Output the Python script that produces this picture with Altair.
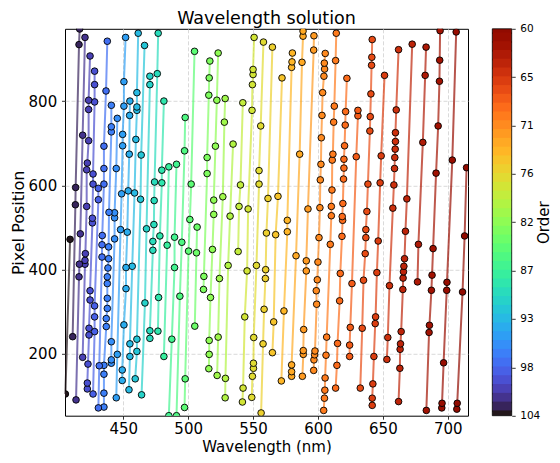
import altair as alt
import pandas as pd

# ---- data: wavelength (nm) and pixel position per echelle order ----
wl_60 = [707.0, 707.3, 711.4, 713.0, 714.5]
px_60 = [69, 83, 347, 480, 642]
wl_61 = [695.4, 695.6, 696.8, 699.2, 699.4, 703.5, 706.5]
px_61 = [72, 83, 179, 351, 370, 660, 964]
wl_62 = [683.5, 685.6, 685.9, 687.4, 687.9, 688.7, 691.0, 692.6, 693.6, 693.8, 694.1]
px_62 = [66, 251, 268, 351, 387, 450, 629, 741, 847, 897, 967]
wl_63 = [676.7, 677.4, 680.8, 682.6, 683.3]
px_63 = [371, 460, 702, 861, 928]
wl_64 = [662.1, 663.1, 663.3, 663.6, 664.1, 665.4, 665.6, 665.9, 666.2, 666.7, 667.4, 668.5, 672.6]
px_64 = [87, 166, 211, 224, 253, 353, 380, 395, 408, 426, 491, 568, 935]
wl_65 = [653.1, 653.8, 655.1, 657.7, 658.5, 659.0, 659.2, 659.5, 659.7, 659.7, 660.3, 662.1]
px_65 = [187, 239, 362, 546, 601, 640, 666, 686, 704, 725, 779, 922]
wl_66 = [641.8, 641.8, 642.3, 643.1, 644.1, 644.4, 645.4, 646.4, 647.9, 648.7, 651.3]
px_66 = [78, 95, 129, 194, 272, 288, 393, 468, 606, 670, 861]
wl_67 = [632.6, 634.1, 635.1, 636.4, 636.9, 636.9, 637.7, 638.5, 640.0, 640.3, 640.8, 641.3, 641.5, 641.8]
px_67 = [119, 261, 375, 438, 476, 495, 538, 603, 729, 763, 817, 885, 904, 946]
wl_68 = [624.4, 624.4, 624.9, 626.2, 629.5, 630.8, 630.8]
px_68 = [194, 221, 263, 367, 668, 765, 778]
wl_69 = [613.6, 614.6, 615.1, 616.7, 617.2, 618.5, 619.0, 618.7, 619.2, 619.7, 620.0, 620.0, 620.5, 621.0, 621.3, 622.3]
px_69 = [119, 173, 225, 326, 391, 479, 517, 526, 557, 615, 641, 662, 694, 743, 775, 854]
wl_70 = [604.4, 605.0, 605.3, 605.5, 606.2, 606.7, 609.5, 610.3, 610.3, 610.8, 611.0, 611.5, 612.1, 612.6, 613.6, 614.1]
px_70 = [66, 95, 114, 143, 197, 240, 460, 528, 550, 589, 660, 674, 750, 788, 896, 961]
wl_71 = [596.7, 596.9, 597.4, 597.7, 599.0, 598.7, 599.5, 600.0, 600.8, 601.5, 601.8, 602.3, 602.6, 603.1, 603.6, 604.6, 605.1, 604.9, 605.6]
px_71 = [161, 186, 198, 207, 318, 350, 376, 418, 476, 547, 613, 650, 713, 766, 820, 859, 876, 890, 913]
wl_72 = [588.0, 588.7, 588.7, 589.0, 591.0, 591.0, 592.3, 596.7, 596.9]
px_72 = [147, 199, 208, 258, 397, 421, 544, 921, 955]
wl_73 = [579.7, 579.7, 579.7, 583.1, 585.9, 587.7, 588.5, 588.5]
px_73 = [147, 158, 174, 433, 674, 892, 954, 966]
wl_74 = [571.8, 573.8, 576.4, 576.4, 579.7, 580.0, 580.3]
px_74 = [136, 302, 490, 517, 880, 893, 914]
wl_75 = [564.9, 565.9, 567.4, 569.2, 572.3]
px_75 = [203, 276, 483, 574, 855]
wl_76 = [556.2, 557.7, 558.5, 559.5, 559.7, 560.3, 561.5, 564.9]
px_76 = [60, 224, 306, 379, 400, 487, 569, 928]
wl_77 = [549.0, 549.5, 550.3, 550.3, 550.5, 552.6, 554.6, 554.6, 555.9, 558.0]
px_77 = [97, 147, 166, 178, 239, 410, 603, 635, 741, 940]
wl_78 = [541.8, 542.3, 543.6, 545.4, 546.2, 549.2, 549.5, 550.0, 550.0, 550.8]
px_78 = [86, 119, 288, 397, 544, 778, 839, 863, 875, 951]
wl_79 = [538.5, 539.2, 540.3, 542.1]
px_79 = [443, 550, 601, 796]
wl_80 = [528.5, 528.7, 530.8, 532.3, 534.6]
px_80 = [96, 142, 410, 527, 698]
wl_81 = [522.3, 523.1, 524.1, 526.7, 527.9, 528.5]
px_81 = [149, 240, 379, 573, 750, 806]
wl_82 = [515.9, 516.2, 516.2, 517.2, 518.7, 519.7, 519.7, 521.0, 522.1, 523.1]
px_82 = [165, 199, 232, 334, 448, 531, 565, 693, 802, 914]
wl_83 = [511.8, 512.1, 514.6, 514.6, 515.9, 516.2, 516.7]
px_83 = [353, 384, 628, 666, 814, 855, 895]
wl_84 = [505.1, 506.4, 506.9]
px_84 = [266, 440, 501]
wl_85 = [497.2, 497.7, 500.3, 501.3, 502.3, 504.9]
px_85 = [73, 141, 444, 519, 603, 918]
wl_86 = [491.0, 493.6, 495.1, 497.2, 497.7]
px_86 = [53.5, 337, 465, 682, 761]
wl_87 = [485.1, 487.4, 489.5, 489.5, 491.0]
px_87 = [53.5, 235, 405, 477, 650]
wl_88 = [481.3, 483.8, 485.1]
px_88 = [194, 458, 644]
wl_89 = [476.7, 477.2, 478.2, 479.7, 479.7, 481.3]
px_89 = [254, 334, 480, 606, 636, 800]
wl_90 = [470.5, 470.5, 472.8, 472.8, 473.6, 473.8, 474.1, 476.2, 476.9]
px_90 = [237, 255, 446, 467, 507, 564, 608, 865, 961]
wl_91 = [464.1, 466.7, 467.9, 470.5, 470.5]
px_91 = [103, 321, 497, 839, 859]
wl_92 = [459.2, 460.5, 460.5, 463.3, 463.8, 466.4]
px_92 = [141, 206, 235, 567, 672, 932]
wl_93 = [454.4, 455.1, 455.1, 456.9, 458.7, 459.7, 460.5, 460.5, 460.5, 461.5]
px_93 = [115, 194, 224, 408, 582, 709, 778, 786, 820, 961]
wl_94 = [449.2, 449.2, 450.5, 452.1, 452.1, 453.1, 453.8, 454.6, 454.9, 455.1]
px_94 = [137, 162, 269, 355, 405, 489, 587, 674, 766, 800]
wl_95 = [444.6, 445.4, 447.9, 448.7, 449.5, 449.5, 450.5, 450.5, 451.8]
px_95 = [96, 199, 495, 580, 694, 721, 788, 846, 951]
wl_96 = [440.8, 440.8, 440.8, 443.3, 443.3, 443.3, 444.6, 445.4]
px_96 = [178, 186, 229, 473, 523, 535, 640, 759]
wl_97 = [435.1, 435.1, 435.1, 435.1, 436.9, 436.9, 437.7, 437.7, 437.7, 437.7, 438.2, 438.7, 438.7, 439.0, 440.8, 440.8, 440.8]
px_97 = [74, 107, 152, 173, 265, 284, 308, 332, 367, 383, 404, 426, 454, 536, 727, 739, 790]
wl_98 = [430.8, 431.5, 433.6, 433.6, 433.8, 435.1, 435.1, 435.1, 436.7, 437.7]
px_98 = [72, 172, 430, 459, 481, 603, 640, 693, 824, 942]
wl_99 = [426.7, 427.9, 427.9, 427.9, 430.8, 430.8]
px_99 = [105, 253, 288, 314, 566, 593]
wl_100 = [422.3, 422.3, 422.8, 423.6, 423.6, 424.4, 424.4, 426.2, 426.2, 426.7, 426.7, 427.9, 427.9, 427.9]
px_100 = [117, 131, 176, 245, 261, 328, 350, 511, 522, 603, 627, 798, 839, 871]
wl_101 = [418.7, 420.5, 420.5, 420.8, 421.8, 421.8, 422.3, 423.3, 423.3, 423.3, 424.4]
px_101 = [192, 413, 422, 438, 550, 637, 653, 706, 780, 802, 907]
wl_102 = [413.6, 415.9, 416.2, 416.9, 418.7, 420.5]
px_102 = [91, 383, 413, 485, 719, 951]
wl_103 = [411.0, 413.1, 413.3, 415.9, 416.4]
px_103 = [241, 554, 595, 934, 971]
wl_104 = [405.4, 409.0]
px_104 = [105, 472]

ORDERS = list(range(60, 105))
X_TICKS = [450, 500, 550, 600, 650, 700]
Y_TICKS = [200, 400, 600, 800]
CB_TICKS = [60, 65.5, 71, 76.5, 82, 87.5, 93, 98.5, 104]

SERIES = {m: (globals()[f"wl_{m}"], globals()[f"px_{m}"]) for m in ORDERS}

rows = []
for m in ORDERS:
    wls, pxs = SERIES[m]
    for w, p in zip(wls, pxs):
        rows.append({"order": m, "wavelength": w, "pixel": p})
df = pd.DataFrame(rows)
cb_df = pd.DataFrame({"order": ORDERS})

FONT = "DejaVu Sans"
PLOT_H = 386.9
color_scale = alt.Scale(domain=[60, 104], scheme="turbo", reverse=True)
c_enc = alt.Color("order:Q", scale=color_scale, legend=None)

x_enc = alt.X(
    "wavelength:Q",
    scale=alt.Scale(domain=[405.1, 715.6], nice=False, zero=False),
    axis=alt.Axis(title="Wavelength (nm)", values=X_TICKS, format="d", labelFlush=False,
                  orient="bottom", labelPadding=2.5, titleFontSize=15,
                  titleBaseline="alphabetic", titleY=35.8),
)
y_enc = alt.Y(
    "pixel:Q",
    scale=alt.Scale(domain=[53.5, 971.5], nice=False, zero=False),
    axis=alt.Axis(title="Pixel Position", values=Y_TICKS, format="d", orient="left",
                  labelPadding=4.8, titlePadding=2.0, titleFontSize=16),
)

lines = alt.Chart(df).mark_line(strokeWidth=2, opacity=0.7).encode(
    x=x_enc, y=y_enc, color=c_enc, detail="order:N", order=alt.Order("pixel:Q")
)
points = alt.Chart(df).mark_circle(
    size=44, opacity=1, stroke="black", strokeWidth=0.9, clip=True
).encode(x=x_enc, y=y_enc, color=c_enc)

main = alt.layer(lines, points)

cb_axis = alt.Axis(
    orient="right", offset=43.7, values=CB_TICKS, labelExpr="floor(datum.value)",
    title="Order", titleAngle=270, titleBaseline="top", titleFontSize=15, titlePadding=-3.5,
    labelFontSize=10.5, labelPadding=4.5, grid=False, domain=False, tickSize=3.5,
)
cb_scale = alt.Scale(domain=[60, 104], reverse=True, nice=False, zero=False)
cb_y = alt.Y("lo:Q", scale=cb_scale, axis=cb_axis)

cb_rect = alt.Chart(cb_df).transform_calculate(
    lo="max(datum.order - 0.6, 60)", hi="min(datum.order + 0.6, 104)"
).mark_rect(strokeWidth=0).encode(
    x=alt.value(427.3), x2=alt.value(446.7), y=cb_y, y2="hi:Q", color=c_enc
)
cb_frame = alt.Chart(cb_df).transform_filter("datum.order == 60").transform_calculate(
    lo="60", hi="104"
).mark_rect(fill="white", fillOpacity=0, stroke="black", strokeWidth=0.8).encode(
    x=alt.value(427.3), x2=alt.value(446.7), y=cb_y, y2="hi:Q"
)

colorbar = alt.layer(cb_rect, cb_frame)

chart = alt.layer(main, colorbar).resolve_scale(y="independent").properties(
    width=403,
    height=PLOT_H,
    padding={"left": 57, "top": 20.8, "right": 84, "bottom": 39.3},
    autosize=alt.AutoSizeParams(type="none"),
    title=alt.TitleParams("Wavelength solution", fontSize=17.5, font=FONT, fontWeight="normal",
                          color="black", anchor="middle", offset=3, dy=7.1),
).configure(font=FONT).configure_view(stroke="black", strokeWidth=1).configure_axis(
    labelFont=FONT, titleFont=FONT, labelColor="black", titleColor="black",
    tickColor="black", tickWidth=0.8, tickSize=3.5, domain=False,
    titleFontWeight="normal", labelFontSize=15, titleFontSize=17,
    grid=True, gridColor="#d0d0d0", gridDash=[4, 2], gridWidth=0.8,
)

chart.save("out.html", embed_options={"renderer": "svg", "actions": False})
